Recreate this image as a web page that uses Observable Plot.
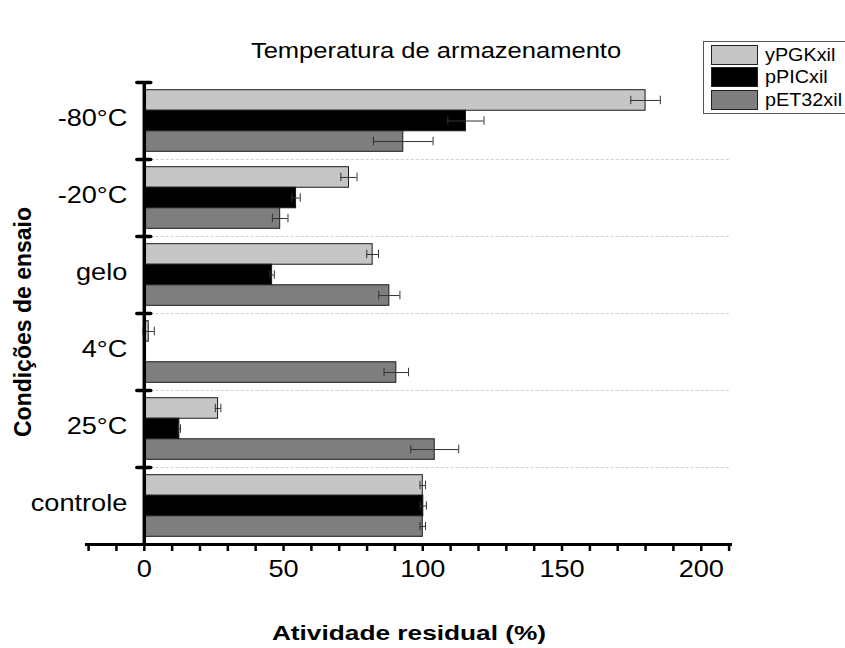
<!DOCTYPE html>
<html>
<head>
<meta charset="utf-8">
<script src="https://cdn.jsdelivr.net/npm/d3@7"></script>
<script src="https://cdn.jsdelivr.net/npm/@observablehq/plot@0.6"></script>
<style>
  html, body { margin: 0; padding: 0; background: #fff; overflow: hidden; }
  #chart { position: relative; width: 845px; height: 648px; font-family: "Liberation Sans", Arial, sans-serif; color: #000; }
  #chart svg { position: absolute; left: 0; top: 0; }
  .title { position: absolute; left: 436px; top: 40px; font-size: 22px; line-height: 1; white-space: nowrap; transform: translateX(-50%) scaleX(1.16); }
  .ytitle { position: absolute; left: 22.7px; top: 321.5px; font-size: 23px; font-weight: bold; line-height: 1; white-space: nowrap; transform: translate(-50%, -50%) rotate(-90deg); }
  .xtitle { position: absolute; left: 409px; top: 622px; font-size: 21px; font-weight: bold; line-height: 1; white-space: nowrap; transform: translateX(-50%) scaleX(1.25); }
  .legend { position: absolute; left: 703px; top: 41px; width: 200px; height: 73px; border: 1px solid #555; box-sizing: border-box; }
  .legend .row { position: absolute; left: 7px; height: 20px; }
  .legend .sw { position: absolute; left: 0; top: 0; width: 47px; height: 20px; box-sizing: border-box; border: 1px solid #222; }
  .legend .lab { position: absolute; left: 54px; top: 1px; font-size: 18px; line-height: 1; white-space: nowrap; transform-origin: left center; transform: scaleX(1.1); }
</style>
</head>
<body>
<div id="chart"></div>
<script>
// Storage conditions (top to bottom) and expression constructs
const categories = ["-80°C", "-20°C", "gelo", "4°C", "25°C", "controle"];
const series = ["yPGKxil", "pPICxil", "pET32xil"];

// Residual activity (%) per construct, one value per condition, with error
const yPGKxil = [180, 73.5, 82, 1.6, 26.5, 100];
const yPGKxilErr = [5.3, 2.9, 2.1, 2, 1, 1];
const pPICxil = [115.5, 54.5, 45.9, 0, 12.6, 100.2];
const pPICxilErr = [6.5, 1.5, 0.8, 0, 0.4, 1.1];
const pET32xil = [93, 48.8, 88, 90.5, 104.3, 100];
const pET32xilErr = [10.7, 2.8, 3.8, 4.4, 8.6, 1];

const xTicks = d3.range(-20, 211, 10);
const xLabels = [0, 50, 100, 150, 200];
const colors = ["#c6c6c6", "#000000", "#7e7e7e"];

const values = [yPGKxil, pPICxil, pET32xil];
const errors = [yPGKxilErr, pPICxilErr, pET32xilErr];

// Each condition spans one unit on y; the three bars share it with a small gap on each side
const pad = 0.1, slot = 0.2667;
const rows = categories.flatMap((c, i) => series.map((s, k) => ({
  category: c,
  series: s,
  value: values[k][i],
  err: errors[k][i],
  y1: i + pad + k * slot,
  y2: i + pad + (k + 1) * slot
})));
const barRows = rows.filter(d => d.value > 0);
const errRows = rows.filter(d => d.err > 0);
const mid = d => (d.y1 + d.y2) / 2;
const capHalf = 0.055;

const boundaries = d3.range(0, categories.length);

const svg = Plot.plot({
  width: 845,
  height: 648,
  marginLeft: 86,
  marginRight: 115,
  marginTop: 82,
  marginBottom: 104,
  style: { fontFamily: "'Liberation Sans', Arial, sans-serif", background: "transparent", color: "#000" },
  x: { domain: [-20.75, 210.5] },
  y: { domain: [0, categories.length], reverse: true, axis: null },
  color: { domain: series, range: colors },
  marks: [
    // dotted separators between conditions
    Plot.ruleY(boundaries.slice(1), { x1: 2.5, x2: 210.5, stroke: "#cfcfcf", strokeDasharray: "3,2", strokeWidth: 1 }),
    // bars
    Plot.rect(barRows, { x1: () => 0, x2: "value", y1: "y1", y2: "y2", fill: "series", stroke: "#1a1a1a", strokeWidth: 1 }),
    // error bars
    Plot.ruleY(errRows, { y: mid, x1: d => d.value - d.err, x2: d => d.value + d.err, stroke: "#333", strokeWidth: 1 }),
    Plot.ruleX(errRows, { x: d => d.value - d.err, y1: d => mid(d) - capHalf, y2: d => mid(d) + capHalf, stroke: "#333", strokeWidth: 1 }),
    Plot.ruleX(errRows, { x: d => d.value + d.err, y1: d => mid(d) - capHalf, y2: d => mid(d) + capHalf, stroke: "#333", strokeWidth: 1 }),
    // vertical axis at zero with cross ticks at each condition boundary
    Plot.ruleX([0], { y1: 0, y2: categories.length, stroke: "#000", strokeWidth: 3.5 }),
    Plot.ruleY(boundaries, { x1: -2.5, x2: 2.5, stroke: "#000", strokeWidth: 3.5, strokeLinecap: "round" }),
    // horizontal axis
    Plot.frame({ anchor: "bottom", stroke: "#000", strokeWidth: 3 }),
    Plot.axisX(xTicks, {
      tickSize: 7,
      tickPadding: 9,
      strokeWidth: 2.5,
      fontSize: 23,
      label: null,
      tickFormat: d => xLabels.includes(d) ? String(d) : ""
    }),
    // condition labels
    Plot.text(categories, {
      x: () => 0,
      y: (d, i) => i + 0.5,
      text: d => d,
      textAnchor: "end",
      dx: -17,
      dy: -2,
      fontSize: 23,
      fill: "#000"
    })
  ]
});

// widen glyphs horizontally around each label's anchor
const stretch = 1.18;
d3.select(svg).selectAll("text").each(function () {
  const t = this.getAttribute("transform");
  if (t) {
    this.setAttribute("transform", `${t} scale(${stretch},1)`);
  } else {
    const x = +this.getAttribute("x") || 0, y = +this.getAttribute("y") || 0;
    this.setAttribute("transform", `translate(${x},${y}) scale(${stretch},1) translate(${-x},${-y})`);
  }
});

const chart = document.getElementById("chart");
chart.appendChild(svg);

const title = document.createElement("div");
title.className = "title";
title.textContent = "Temperatura de armazenamento";
chart.appendChild(title);

const ytitle = document.createElement("div");
ytitle.className = "ytitle";
ytitle.textContent = "Condições de ensaio";
chart.appendChild(ytitle);

const xtitle = document.createElement("div");
xtitle.className = "xtitle";
xtitle.textContent = "Atividade residual (%)";
chart.appendChild(xtitle);

const legend = document.createElement("div");
legend.className = "legend";
const rowTops = [2.5, 25, 48];
series.forEach((s, k) => {
  const row = document.createElement("div");
  row.className = "row";
  row.style.top = rowTops[k] + "px";
  const sw = document.createElement("div");
  sw.className = "sw";
  sw.style.background = colors[k];
  const lab = document.createElement("div");
  lab.className = "lab";
  lab.textContent = s;
  row.appendChild(sw);
  row.appendChild(lab);
  legend.appendChild(row);
});
chart.appendChild(legend);
</script>
</body>
</html>
